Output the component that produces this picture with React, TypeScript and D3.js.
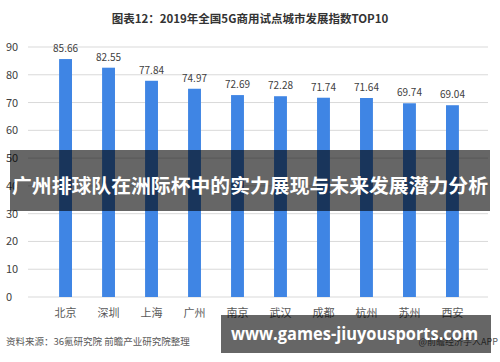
import React, { useEffect, useRef } from 'react';
import * as d3 from 'd3';

const cities = ['北京', '深圳', '上海', '广州', '南京', '武汉', '成都', '杭州', '苏州', '西安'];
const scores = [85.66, 82.55, 77.84, 74.97, 72.69, 72.28, 71.74, 71.64, 69.74, 69.04];
const yTicks = [0, 10, 20, 30, 40, 50, 60, 70, 80, 90];

const width = 500;
const height = 362;

const App = () => {
  const ref = useRef<SVGSVGElement>(null);

  useEffect(() => {
    const svg = d3.select(ref.current);
    svg.selectAll('*').remove();

    const font = '"Noto Sans CJK SC", "Noto Sans", sans-serif';

    svg.append('rect').attr('width', width).attr('height', height).attr('fill', '#ffffff');

    // title
    svg.append('text')
      .attr('x', 250)
      .attr('y', 23)
      .attr('text-anchor', 'middle')
      .attr('font-family', font)
      .attr('font-weight', 'bold')
      .attr('font-size', 11.5)
      .attr('fill', '#333333')
      .text('图表12：2019年全国5G商用试点城市发展指数TOP10');

    const x = d3.scaleBand().domain(cities).range([29, 489]).padding(0.7);
    const y = d3.scaleLinear().domain([0, 90]).range([297, 47]);

    // gridlines
    svg.selectAll('.grid')
      .data(yTicks)
      .enter().append('line')
      .attr('x1', 28)
      .attr('x2', 488)
      .attr('y1', d => y(d))
      .attr('y2', d => y(d))
      .attr('stroke', '#d9d9d9')
      .attr('stroke-width', 1);

    // y labels
    svg.selectAll('.ylab')
      .data(yTicks)
      .enter().append('text')
      .attr('x', 6)
      .attr('y', d => y(d) + 4)
      .attr('font-family', font)
      .attr('font-size', 11)
      .attr('fill', '#404040')
      .text(d => d);

    // bars
    svg.selectAll('.bar')
      .data(scores)
      .enter().append('rect')
      .attr('x', (d, i) => x(cities[i]) as number)
      .attr('width', x.bandwidth())
      .attr('y', d => y(d))
      .attr('height', d => y(0) - y(d))
      .attr('fill', '#3f85e4');

    // value labels
    svg.selectAll('.val')
      .data(scores)
      .enter().append('text')
      .attr('x', (d, i) => (x(cities[i]) as number) + x.bandwidth() / 2)
      .attr('y', d => y(d) - 7)
      .attr('text-anchor', 'middle')
      .attr('font-family', font)
      .attr('font-size', 10)
      .attr('fill', '#404040')
      .text(d => d.toFixed(2));

    // category labels
    svg.selectAll('.cat')
      .data(cities)
      .enter().append('text')
      .attr('x', d => (x(d) as number) + x.bandwidth() / 2)
      .attr('y', 317)
      .attr('text-anchor', 'middle')
      .attr('font-family', font)
      .attr('font-size', 11)
      .attr('fill', '#595959')
      .text(d => d);

    // source
    svg.append('text')
      .attr('x', 6)
      .attr('y', 345)
      .attr('font-family', font)
      .attr('font-size', 9.5)
      .attr('fill', '#595959')
      .text('资料来源：36氪研究院 前瞻产业研究院整理');

    svg.append('text')
      .attr('x', 498)
      .attr('y', 345)
      .attr('text-anchor', 'end')
      .attr('font-family', font)
      .attr('font-size', 9)
      .attr('fill', '#595959')
      .text('@前瞻经济学人APP');

    // overlay banner
    svg.append('rect')
      .attr('x', 10)
      .attr('y', 150)
      .attr('width', 480)
      .attr('height', 61)
      .attr('fill', 'rgba(0,0,0,0.6)');

    svg.append('text')
      .attr('x', 12)
      .attr('y', 193)
      .attr('font-family', font)
      .attr('font-weight', 'bold')
      .attr('font-size', 19.5)
      .attr('textLength', 476)
      .attr('lengthAdjust', 'spacingAndGlyphs')
      .attr('fill', '#ffffff')
      .text('广州排球队在洲际杯中的实力展现与未来发展潜力分析');

    // url banner
    svg.append('rect')
      .attr('x', 221)
      .attr('y', 315)
      .attr('width', 270)
      .attr('height', 38)
      .attr('fill', 'rgba(0,0,0,0.6)');

    svg.append('text')
      .attr('x', 231)
      .attr('y', 340)
      .attr('font-family', '"Open Sans", "Noto Sans", sans-serif')
      .attr('font-weight', 'bold')
      .attr('font-size', 17)
      .attr('textLength', 247)
      .attr('lengthAdjust', 'spacingAndGlyphs')
      .attr('fill', '#ffffff')
      .text('www.games-jiuyousports.com');
  }, []);

  return (
    <div style={{ position: 'absolute', left: 0, top: 0 }}>
      <svg ref={ref} width={width} height={height} style={{ display: 'block' }} />
    </div>
  );
};

export default App;
